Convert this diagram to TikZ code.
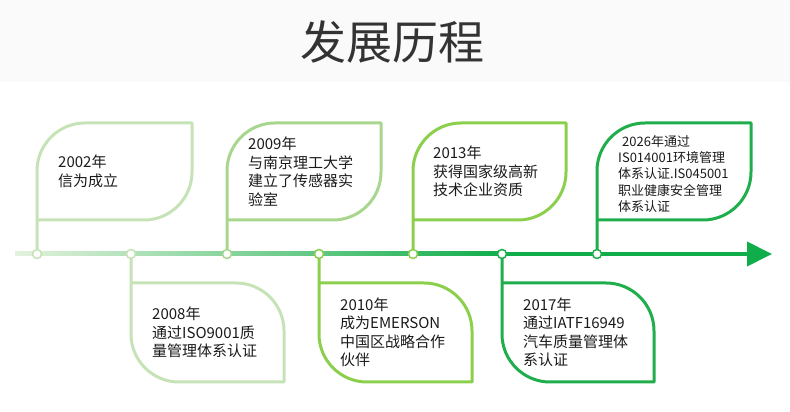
\documentclass[tikz,border=0pt]{standalone}
\usepackage{fontspec}
\setmainfont{Noto Sans CJK SC}
\usepackage{tikz}
\usetikzlibrary{arrows.meta, positioning, calc}

\definecolor{cA}{HTML}{C6E3B7}
\definecolor{cB}{HTML}{A8D68E}
\definecolor{cC}{HTML}{8CCF4D}
\definecolor{cD}{HTML}{1FAE4B}
\definecolor{tlstart}{HTML}{E4F2DD}
\definecolor{tlmid}{HTML}{A9D98F}
\definecolor{tlend}{HTML}{10AD4B}
\definecolor{titlegray}{HTML}{333333}
\definecolor{bandgray}{HTML}{FAFAFA}
\definecolor{txt}{HTML}{1A1A1A}

\begin{document}
\begin{tikzpicture}[
  x=1pt, y=1pt,
  card/.style={line width=3pt, line join=round},
  dot/.style={circle, fill=white, line width=1.5pt, minimum size=9pt, inner sep=0pt},
  txtbox/.style={anchor=west, align=left, inner sep=0pt, text=txt,
                 font=\fontsize{15}{18.5}\selectfont},
  arr/.style={line width=4pt, tlend, -{Triangle[length=25pt, width=24pt]}}
]
  \useasboundingbox (0,0) rectangle (790,412);

  % title band
  \fill[bandgray] (0,330) rectangle (790,412);
  \node[text=titlegray, font=\fontsize{46}{50}\selectfont] (title) at (392,370) {发展历程};

  % timeline
  \coordinate (tl0) at (15,158);
  \coordinate (tl1) at (502,158);
  \coordinate (tip) at (772,158);
  \shade[left color=tlstart, middle color=tlmid, right color=tlend]
    ($(tl0)+(0,-2)$) rectangle ($(tl1)+(0,2)$);
  \draw[arr] (tl1) -- (tip);

  % stems on the timeline
  \coordinate (s2002) at (37,158);
  \coordinate (s2008) at (131,158);
  \coordinate (s2009) at (227,158);
  \coordinate (s2010) at (319,158);
  \coordinate (s2013) at (413,158);
  \coordinate (s2017) at (502,158);
  \coordinate (s2026) at (597,158);

  % upper cards
  \draw[card, cA] (s2002) -- (37,241) arc[start angle=180, end angle=90, radius=48]
    -- (192,289) -- (192,240) arc[start angle=0, end angle=-90, radius=48] -- (37,192);
  \draw[card, cB] (s2009) -- (227,241) arc[start angle=180, end angle=90, radius=48]
    -- (381,289) -- (381,240) arc[start angle=0, end angle=-90, radius=48] -- (227,192);
  \draw[card, cC] (s2013) -- (413,241) arc[start angle=180, end angle=90, radius=48]
    -- (566,289) -- (566,240) arc[start angle=0, end angle=-90, radius=48] -- (413,192);
  \draw[card, cD] (s2026) -- (597,241) arc[start angle=180, end angle=90, radius=48]
    -- (751,289) -- (751,240) arc[start angle=0, end angle=-90, radius=48] -- (597,192);

  % lower cards
  \draw[card, cA] (s2008) -- (131,78) arc[start angle=180, end angle=270, radius=48]
    -- (284,30) -- (284,81) arc[start angle=0, end angle=90, radius=48] -- (131,129);
  \draw[card, cC] (s2010) -- (319,78) arc[start angle=180, end angle=270, radius=48]
    -- (472,30) -- (472,81) arc[start angle=0, end angle=90, radius=48] -- (319,129);
  \draw[card, cD] (s2017) -- (502,78) arc[start angle=180, end angle=270, radius=48]
    -- (654,30) -- (654,81) arc[start angle=0, end angle=90, radius=48] -- (502,129);

  % dots
  \node[dot, draw=cA] (d2002) at (s2002) {};
  \node[dot, draw=cA] (d2008) at (s2008) {};
  \node[dot, draw=cB] (d2009) at (s2009) {};
  \node[dot, draw=cC] (d2010) at (s2010) {};
  \node[dot, draw=cC] (d2013) at (s2013) {};
  \node[dot, draw=cD] (d2017) at (s2017) {};
  \node[dot, draw=cD] (d2026) at (s2026) {};

  % texts
  \node[txtbox] (t2002) at (58,240.5) {2002年\\信为成立};
  \node[txtbox] (t2009) at (248,240.5) {2009年\\与南京理工大学\\建立了传感器实\\验室};
  \node[txtbox] (t2013) at (433,240.5) {2013年\\获得国家级高新\\技术企业资质};
  \node[txtbox, font=\fontsize{13}{16.3}\selectfont] (t2026) at (618,238)
    {\hspace*{4pt}2026年通过\\IS014001环境管理\\体系认证.IS045001\\职业健康安全管理\\体系认证};
  \node[txtbox] (t2008) at (152,79.5) {2008年\\通过ISO9001质\\量管理体系认证};
  \node[txtbox] (t2010) at (340,79.5) {2010年\\成为EMERSON\\中国区战略合作\\伙伴};
  \node[txtbox] (t2017) at (523,79.5) {2017年\\通过IATF16949\\汽车质量管理体\\系认证};
\end{tikzpicture}
\end{document}
